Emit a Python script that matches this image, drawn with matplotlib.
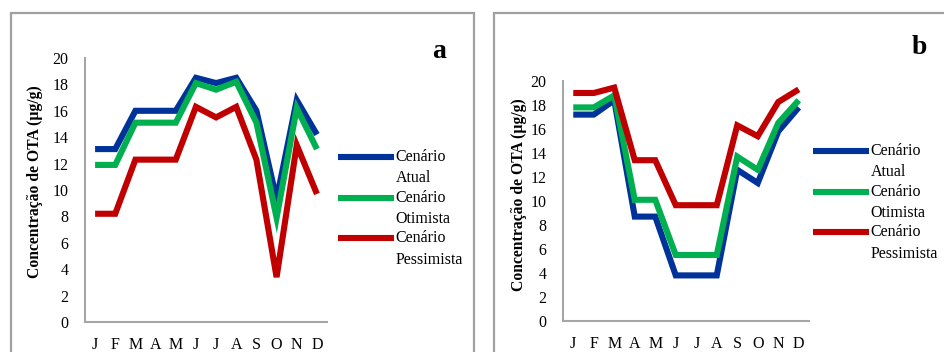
import matplotlib
matplotlib.use("Agg")
import matplotlib.pyplot as plt
import numpy as np
from matplotlib.patches import Rectangle
from matplotlib.legend_handler import HandlerLine2D

plt.rcParams['font.family'] = ['Liberation Serif', 'DejaVu Serif']

meses = ['J', 'F', 'M', 'A', 'M', 'J', 'J', 'A', 'S', 'O', 'N', 'D']
series = ['Cenário\nAtual', 'Cenário\nOtimista', 'Cenário\nPessimista']
cores = ['#003399', '#00B050', '#C00000']

# painel a
a_atual = [13.1, 13.1, 16.0, 16.0, 16.0, 18.5, 18.1, 18.5, 16.0, 9.3, 16.8, 14.2]
a_otimista = [11.9, 11.9, 15.1, 15.1, 15.1, 18.1, 17.6, 18.2, 15.1, 7.9, 16.2, 13.1]
a_pessimista = [8.2, 8.2, 12.3, 12.3, 12.3, 16.3, 15.5, 16.3, 12.3, 3.4, 13.4, 9.7]

# painel b
b_atual = [17.2, 17.2, 18.4, 8.7, 8.7, 3.8, 3.8, 3.8, 12.6, 11.5, 15.8, 17.8]
b_otimista = [17.8, 17.8, 18.8, 10.1, 10.1, 5.5, 5.5, 5.5, 13.7, 12.6, 16.5, 18.4]
b_pessimista = [19.0, 19.0, 19.45, 13.4, 13.4, 9.65, 9.65, 9.65, 16.3, 15.4, 18.25, 19.3]

W, H = 944, 352
fig = plt.figure(figsize=(W / 100, H / 100), dpi=100)


class LinhaTopo(HandlerLine2D):
    # alinha a linha da legenda com a primeira linha do texto
    def create_artists(self, legend, orig_handle, xdescent, ydescent,
                       width, height, fontsize, trans):
        arts = super().create_artists(legend, orig_handle, xdescent, ydescent,
                                      width, height, fontsize, trans)
        for a in arts:
            a.set_ydata(np.asarray(a.get_ydata()) + 0.7 * fontsize)
        return arts


def px(x0, y0, x1, y1):
    # caixa em pixels (origem no topo) -> fracoes da figura
    return [x0 / W, 1 - y1 / H, (x1 - x0) / W, (y1 - y0) / H]


def painel(rect, dados, letra, letra_xy, ylab_xy, leg_xy):
    ax = fig.add_axes(px(*rect))
    for vals, cor, nome in zip(dados, cores, series):
        ax.plot(range(len(meses)), vals, color=cor, lw=4.4, label=nome,
                solid_joinstyle='miter', solid_capstyle='butt')
    ax.set_xlim(-0.5, len(meses) - 0.5)
    ax.set_ylim(0, 20)
    ax.set_yticks(range(0, 21, 2))
    ax.set_xticks(range(len(meses)))
    ax.set_xticklabels(meses)
    ax.tick_params(length=0, labelsize=11.5, pad=12)
    ax.tick_params(axis='x', pad=11)
    for s in ['top', 'right']:
        ax.spines[s].set_visible(False)
    for s in ['left', 'bottom']:
        ax.spines[s].set_color('#A6A6A6')
        ax.spines[s].set_linewidth(1.5)
    fig.text(letra_xy[0] / W, 1 - letra_xy[1] / H, letra, fontsize=20,
             fontweight='bold', ha='center', va='center')
    fig.text(ylab_xy[0] / W, 1 - ylab_xy[1] / H, 'Concentração de OTA (µg/g)',
             fontsize=11.3, fontweight='bold', rotation=90,
             ha='center', va='center')
    leg = ax.legend(loc='upper left', bbox_to_anchor=(leg_xy[0] / W, 1 - leg_xy[1] / H),
                    bbox_transform=fig.transFigure, frameon=False, fontsize=11.5,
                    handlelength=3.5, handletextpad=0.1, labelspacing=0.2,
                    borderpad=0, borderaxespad=0,
                    handler_map={matplotlib.lines.Line2D: LinhaTopo()})
    for t in leg.get_texts():
        t.set_linespacing(1.45)
    return ax


painel((85, 58, 327, 322), [a_atual, a_otimista, a_pessimista], 'a',
       (439, 52), (35, 182), (338, 149))
painel((563, 81, 809, 321), [b_atual, b_otimista, b_pessimista], 'b',
       (919, 48), (519, 195), (813, 143))

for x0, x1 in [(10.5, 473.5), (493.5, 960)]:
    fig.patches.append(Rectangle((x0 / W, -0.1), (x1 - x0) / W, 1 - 12.5 / H + 0.1,
                                 transform=fig.transFigure, fill=False,
                                 edgecolor='#A0A0A0', lw=1.6))

fig.savefig('out.png', dpi=100)
